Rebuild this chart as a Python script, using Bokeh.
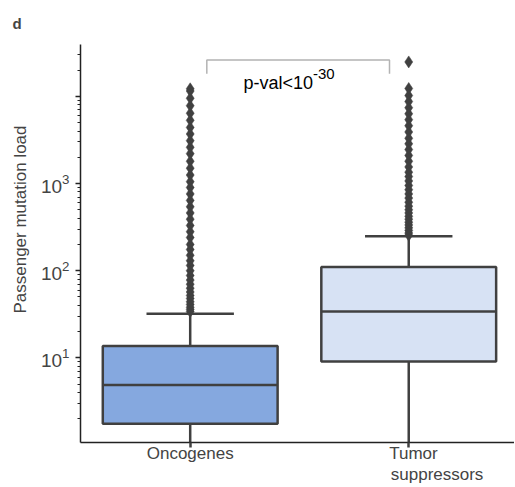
from bokeh.plotting import figure
from bokeh.models import FixedTicker, Range1d, Label, ColumnDataSource, Title
from bokeh.embed import file_html
from bokeh.resources import INLINE

# ---- data ----
categories = ["Oncogenes", "Tumor\nsuppressors"]
cat_x = [0, 1]
q1 = [1.76, 9.1]
median = [4.9, 34.0]
q3 = [13.7, 110.0]
whisker_low = [1.0, 1.0]
whisker_high = [32.0, 248.0]
box_colors = ["#85a8df", "#d7e2f4"]

onc_outliers = [34, 36, 38, 41, 44, 48, 52, 57, 63, 70, 78, 88, 100, 115, 130, 150,
                175, 200, 240, 280, 330, 390, 460, 540, 640, 760, 900, 1050, 1250,
                1500, 1800, 2200, 2600, 3100, 3700, 4400, 5300, 6400, 7800, 9500,
                11500, 12200]
ts_outliers = [255, 270, 290, 310, 335, 360, 390, 420, 460, 500, 550, 610, 680, 760,
               850, 950, 1070, 1200, 1350, 1550, 1800, 2100, 2450, 2850, 3300, 3900,
               4600, 5400, 6300, 7400, 8700, 10200, 12300, 24800]

y_major_ticks = [10, 100, 1000, 10000]
y_minor_ticks = [2, 3, 4, 5, 6, 7, 8, 9,
                 20, 30, 40, 50, 60, 70, 80, 90,
                 200, 300, 400, 500, 600, 700, 800, 900,
                 2000, 3000, 4000, 5000, 6000, 7000, 8000, 9000,
                 20000, 30000]
y_label = "Passenger mutation load"
pval_text = "p-val<10"
pval_exp = "-30"
panel_letter = "d"

FONT = "Liberation Sans"
EDGE = "#404040"
NB = "\u00a0"

p = figure(width=514, height=487, y_axis_type="log",
           x_range=Range1d(-0.502, 1.484), y_range=Range1d(1.07, 39300),
           output_backend="svg", toolbar_location=None,
           min_border_left=79, min_border_top=42, min_border_bottom=45,
           min_border_right=0)
p.outline_line_color = None
p.xgrid.visible = False
p.ygrid.visible = False
p.background_fill_color = "white"

# panel letter as the title
p.title.text = panel_letter
p.title.align = "left"
p.title.offset = -68
p.title.text_font = FONT
p.title.text_font_size = "15px"
p.title.text_font_style = "bold"
p.title.standoff = 25

# boxes
src = ColumnDataSource(dict(
    x=cat_x, q1=q1, med=median, q3=q3, lo=whisker_low, hi=whisker_high,
    color=box_colors,
    mx0=[c - 0.4 for c in cat_x], mx1=[c + 0.4 for c in cat_x],
    cx0=[c - 0.2 for c in cat_x], cx1=[c + 0.2 for c in cat_x],
))
p.segment(x0="x", x1="x", y0="q3", y1="hi", source=src, line_color=EDGE, line_width=2.5)
p.segment(x0="x", x1="x", y0="lo", y1="q1", source=src, line_color=EDGE, line_width=2.5)
p.segment(x0="cx0", x1="cx1", y0="hi", y1="hi", source=src, line_color=EDGE, line_width=2.5)
p.vbar(x="x", width=0.8, bottom="q1", top="q3", source=src,
       fill_color="color", line_color=EDGE, line_width=2.5)
p.segment(x0="mx0", x1="mx1", y0="med", y1="med", source=src, line_color=EDGE, line_width=2.5)

# outliers
p.scatter(x=[cat_x[0]] * len(onc_outliers), y=onc_outliers, marker="diamond", size=12,
          fill_color=EDGE, line_color=EDGE, line_width=0.5)
p.scatter(x=[cat_x[1]] * len(ts_outliers), y=ts_outliers, marker="diamond", size=12,
          fill_color=EDGE, line_color=EDGE, line_width=0.5)

# significance bracket
bx0, bx1, btop, bleg = 0.076, 0.912, 26100, 18100
p.line(x=[bx0, bx0, bx1, bx1], y=[bleg, btop, btop, bleg], line_color="#b3b3b3", line_width=1.5)
p.add_layout(Label(x=0.562, y=14300, text=pval_text, text_align="right",
                   text_baseline="alphabetic", text_font=FONT, text_font_size="18px",
                   text_color="black"))
p.add_layout(Label(x=0.562, y=14300, y_offset=9, text=pval_exp, text_align="left",
                   text_baseline="alphabetic", text_font=FONT, text_font_size="15px",
                   text_color="black"))

# y axis
yax = p.yaxis[0]
yax.ticker = FixedTicker(ticks=y_major_ticks, minor_ticks=y_minor_ticks)
yax.major_label_overrides = {10000: ""}
yax.major_label_text_font = FONT
yax.major_label_text_font_size = "19px"
yax.major_label_standoff = 6
yax.axis_line_color = "#222222"
yax.axis_line_width = 1.5
yax.major_tick_in = 0
yax.major_tick_out = 5
yax.major_tick_line_width = 1.5
yax.major_tick_line_color = "#222222"
yax.minor_tick_in = 0
yax.minor_tick_out = 3
yax.minor_tick_line_color = "#222222"

# y label as a side title so it can sit off-centre like the reference
p.add_layout(Title(text=y_label, align="right", offset=81, text_font=FONT,
                   text_font_size="17px", text_font_style="normal", standoff=16), "left")

# x axis with category tick labels (second label lines aligned left as in the reference)
xax = p.xaxis[0]
xax.ticker = FixedTicker(ticks=cat_x, minor_ticks=[])
ts_lines = categories[1].split("\n")
xax.major_label_overrides = {
    cat_x[0]: categories[0],
    cat_x[1]: NB * 2 + ts_lines[0] + "\n" + NB * 12 + ts_lines[1],
}
xax.major_label_text_font = FONT
xax.major_label_text_font_size = "17px"
xax.major_label_text_line_height = 1.15
xax.major_label_standoff = -4
xax.axis_line_color = "#222222"
xax.axis_line_width = 1.5
xax.major_tick_in = 0
xax.major_tick_out = 5
xax.major_tick_line_width = 2.5
xax.major_tick_line_color = EDGE

open("out.html", "w").write(file_html(p, INLINE))
